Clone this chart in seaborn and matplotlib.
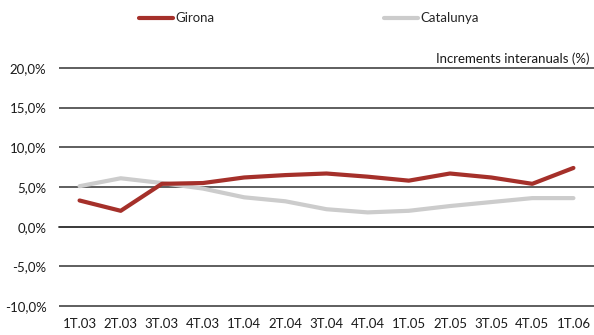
import numpy as np
import pandas as pd
import matplotlib
matplotlib.use('Agg')
import matplotlib.pyplot as plt
import matplotlib.transforms as mtransforms
from matplotlib.ticker import FuncFormatter
import seaborn as sns

quarters = ['1T.03', '2T.03', '3T.03', '4T.03', '1T.04', '2T.04', '3T.04',
            '4T.04', '1T.05', '2T.05', '3T.05', '4T.05', '1T.06']
girona = [3.3, 2.0, 5.4, 5.5, 6.2, 6.5, 6.7, 6.3, 5.8, 6.7, 6.2, 5.4, 7.4]
catalunya = [5.1, 6.1, 5.5, 4.8, 3.7, 3.2, 2.2, 1.8, 2.0, 2.6, 3.1, 3.6, 3.6]
yticks = [-10, -5, 0, 5, 10, 15, 20]

RED = '#A5302A'
GREY = '#CCCCCC'
TXT = '#1a1a1a'

df = pd.DataFrame({
    'idx': list(range(len(quarters))) * 2,
    'valor': girona + catalunya,
    'serie': ['Girona'] * len(quarters) + ['Catalunya'] * len(quarters),
})

sns.set_style('white')
plt.rcParams['font.family'] = ['Lato', 'DejaVu Sans']
plt.rcParams['font.size'] = 9.5

fig = plt.figure(figsize=(5.94, 3.35), dpi=100)
ax = fig.add_axes([0.0993, 0.0746, 0.9007, 0.7344])

sns.lineplot(data=df, x='idx', y='valor', hue='serie', palette={'Girona': RED, 'Catalunya': GREY},
             hue_order=['Catalunya', 'Girona'], linewidth=3, ax=ax, legend=False,
             solid_capstyle='round', solid_joinstyle='round')

ax.set_xlim(-0.5, len(quarters) - 0.5)
ax.set_ylim(-10.5, 20.5)
ax.set_yticks(yticks)
ax.yaxis.set_major_formatter(FuncFormatter(lambda v, p: f'{v:.1f}'.replace('.', ',') + '%'))
ax.tick_params(axis='y', length=0, pad=9, labelsize=9.5, labelcolor=TXT)
ax.grid(axis='y', color='#333333', linewidth=1.1)
ax.grid(axis='x', visible=False)
ax.set_axisbelow(True)

for s in ['left', 'right', 'top']:
    ax.spines[s].set_visible(False)
ax.spines['bottom'].set_position(('data', 0))
ax.spines['bottom'].set_color('#333333')
ax.spines['bottom'].set_linewidth(1.1)
ax.set_xticks(np.arange(len(quarters) + 1) - 0.5)
ax.set_xticklabels([])
ax.tick_params(axis='x', direction='inout', length=10, width=1.1, color='#333333')
ax.set_xlabel('')
ax.set_ylabel('')

trans = mtransforms.blended_transform_factory(ax.transData, ax.transAxes)
for i, q in enumerate(quarters):
    ax.text(i, -0.055, q, transform=trans, ha='center', va='center', fontsize=9.5, color=TXT)

ax.text(0.992, 20.4, 'Increments interanuals (%)', transform=mtransforms.blended_transform_factory(ax.transAxes, ax.transData),
        ha='right', va='bottom', fontsize=9.5, color=TXT)

handles = [plt.Line2D([], [], color=RED, linewidth=3, solid_capstyle='round'),
           plt.Line2D([], [], color=GREY, linewidth=3, solid_capstyle='round')]
fig.legend(handles, ['Girona', 'Catalunya'], loc='center', bbox_to_anchor=(0.52, 0.945), ncol=2,
           frameon=False, handlelength=2.6, handletextpad=0.2, columnspacing=12.8, fontsize=9.5)

fig.savefig('out.png', dpi=100)
